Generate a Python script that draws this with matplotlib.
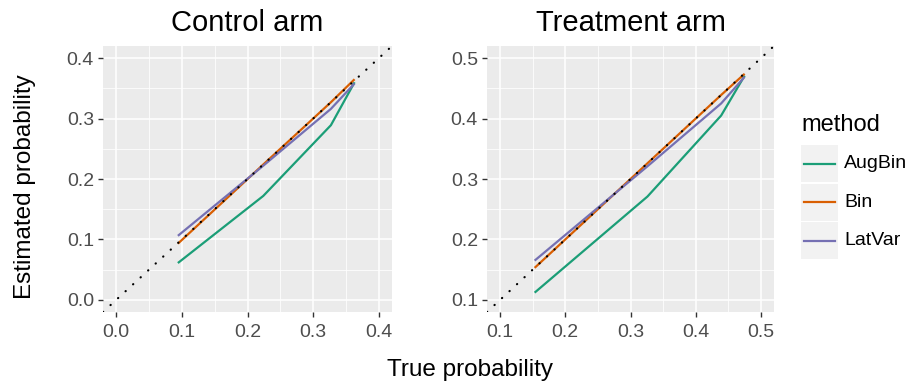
"""Calibration of estimated vs true probability, per trial arm."""

import matplotlib
matplotlib.use("Agg")  # headless rendering
import matplotlib.pyplot as plt
from matplotlib.lines import Line2D
from matplotlib.patches import Rectangle
import numpy as np

plt.rcParams["font.family"] = ["Liberation Sans", "DejaVu Sans"]

# ---------------------------------------------------------------------------
# Data
# ---------------------------------------------------------------------------

methods = ["AugBin", "Bin", "LatVar"]
arms = ["Control arm", "Treatment arm"]

control_true = [0.094, 0.224, 0.327, 0.363]
control_augbin = [0.061, 0.172, 0.289, 0.360]
control_bin = [0.093, 0.224, 0.327, 0.365]
control_latvar = [0.106, 0.222, 0.316, 0.358]

treatment_true = [0.153, 0.326, 0.439, 0.475]
treatment_augbin = [0.112, 0.271, 0.405, 0.471]
treatment_bin = [0.153, 0.326, 0.439, 0.474]
treatment_latvar = [0.165, 0.321, 0.425, 0.469]

control_ticks = [0.0, 0.1, 0.2, 0.3, 0.4]
treatment_ticks = [0.1, 0.2, 0.3, 0.4, 0.5]

COLORS = {"AugBin": "#1B9E77", "Bin": "#D95F02", "LatVar": "#7570B3"}
PANEL_BG = "#EBEBEB"
TEXT_GREY = "#4D4D4D"
BASE = 17.5  # ggplot-ish base font size


def _style_panel(ax, ticks):
    lo, hi = ticks[0], ticks[-1]
    pad = 0.05 * (hi - lo)
    ax.set_xlim(lo - pad, hi + pad)
    ax.set_ylim(lo - pad, hi + pad)
    ax.set_facecolor(PANEL_BG)
    ax.set_xticks(ticks)
    ax.set_yticks(ticks)
    ax.set_xticklabels([f"{t:.1f}" for t in ticks])
    ax.set_yticklabels([f"{t:.1f}" for t in ticks])
    minor = np.array(ticks[:-1]) + 0.05
    ax.set_xticks(minor, minor=True)
    ax.set_yticks(minor, minor=True)
    ax.grid(True, which="major", color="white", linewidth=1.1)
    ax.grid(True, which="minor", color="white", linewidth=0.55)
    ax.set_axisbelow(True)
    ax.tick_params(which="major", length=3.5, width=1.0, color="#333333",
                   labelsize=BASE * 0.8, labelcolor=TEXT_GREY)
    ax.tick_params(axis="y", which="major", pad=3)
    ax.tick_params(axis="x", which="major", pad=5)
    ax.tick_params(which="minor", length=0)
    for s in ax.spines.values():
        s.set_visible(False)


def plot_calibration(out_path="out.png"):
    fig = plt.figure(figsize=(9.11, 3.88), dpi=100)
    ax_c = fig.add_axes([103 / 911, 1 - 312 / 388, 289 / 911, 266 / 388])
    ax_t = fig.add_axes([487 / 911, 1 - 312 / 388, 287 / 911, 266 / 388])

    panels = [
        (ax_c, control_true, [control_augbin, control_bin, control_latvar], control_ticks),
        (ax_t, treatment_true, [treatment_augbin, treatment_bin, treatment_latvar], treatment_ticks),
    ]

    for (ax, x, series, ticks), title in zip(panels, arms):
        _style_panel(ax, ticks)
        for name, y in zip(methods, series):
            ax.plot(x, y, color=COLORS[name], linewidth=1.6, solid_capstyle="butt")
        ax.axline((0, 0), slope=1, color="black", linewidth=1.6,
                  linestyle=(0, (0.1, 4.5)), dash_capstyle="round")
        ax.set_title(title, fontsize=BASE * 1.2, pad=11)

    fig.text(470 / 911, 1 - 370 / 388, "True probability", fontsize=BASE,
             ha="center", va="center")
    fig.text(25 / 911, 1 - 187 / 388, "Estimated probability", fontsize=BASE,
             ha="center", va="center", rotation=90)

    # Legend drawn by hand to mimic ggplot's grey key boxes
    fig.text(801 / 911, 1 - 125 / 388, "method", fontsize=17,
             ha="left", va="center")
    for i, name in enumerate(methods):
        top = 145 + i * 38.5
        fig.add_artist(Rectangle((801 / 911, 1 - (top + 37) / 388), 37 / 911, 37 / 388,
                                 transform=fig.transFigure, facecolor="#F2F2F2",
                                 edgecolor="none"))
        yc = 1 - (top + 18.5) / 388
        fig.add_artist(Line2D([804 / 911, 835 / 911], [yc, yc], transform=fig.transFigure,
                              color=COLORS[name], linewidth=1.6))
        fig.text(844 / 911, yc, name, fontsize=BASE * 0.8, ha="left", va="center")

    fig.savefig(out_path, dpi=100)
    plt.close(fig)


if __name__ == "__main__":
    plot_calibration()
